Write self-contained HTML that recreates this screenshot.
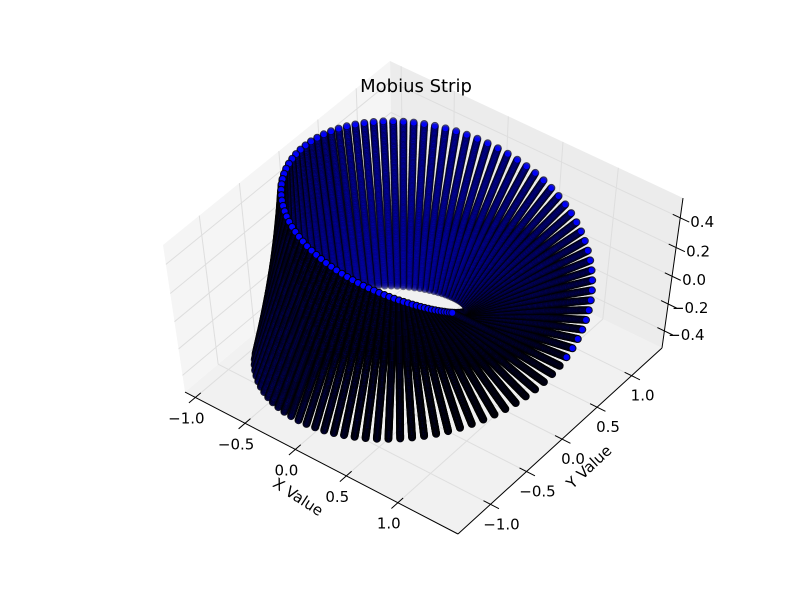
<!DOCTYPE html>
<html><head><meta charset="utf-8"><title>Mobius Strip</title>
<style>
html,body{margin:0;padding:0;background:#fff;}
svg{display:block;font-family:"DejaVu Sans","Liberation Sans",sans-serif;}
</style></head>
<body>
<svg id="chart" width="812" height="612" viewBox="0 0 812 612" xmlns="http://www.w3.org/2000/svg">
<rect x="0" y="0" width="812" height="612" fill="#fff"/>
<g id="panes"></g>
<g id="grid"></g>
<g id="axes"></g>
<g id="pts"></g>
<text x="416" y="92" font-size="18" text-anchor="middle" fill="#000">Mobius Strip</text>
<text x="298" y="497" font-size="15" text-anchor="middle" dominant-baseline="central" transform="rotate(33 298 497)">X Value</text>
<text x="589" y="467" font-size="15" text-anchor="middle" dominant-baseline="central" transform="rotate(-43 589 467)">Y Value</text>
</svg>
<script>
// ---- data (parametric grid of the strip) ----
const uCount = 100;           // samples around the loop
const vCount = 140;           // samples across the strip width
const xTicks = [-1.0, -0.5, 0.0, 0.5, 1.0];
const yTicks = [-1.0, -0.5, 0.0, 0.5, 1.0];
const zTicks = [-0.4, -0.2, 0.0, 0.2, 0.4];
const xTickLabels = ["\u22121.0", "\u22120.5", "0.0", "0.5", "1.0"];
const yTickLabels = ["\u22121.0", "\u22120.5", "0.0", "0.5", "1.0"];
const zTickLabels = ["\u22120.4", "\u22120.2", "0.0", "0.2", "0.4"];
const uValues = [];
const vValues = [];
for (let i = 0; i < uCount; i++) uValues.push(2 * Math.PI * i / (uCount - 1));
for (let j = 0; j < vCount; j++) vValues.push(-1 + 2 * j / (vCount - 1));

const NS = "http://www.w3.org/2000/svg";
const px = [], py = [], pz = [];
for (const u of uValues) {
  for (const v of vValues) {
    const r = 1 + v / 2 * Math.cos(u / 2);
    px.push(r * Math.cos(u));
    py.push(r * Math.sin(u));
    pz.push(v / 2 * Math.sin(u / 2));
  }
}
const PAD = 0.03;
function lims(a) { const lo = Math.min(...a), hi = Math.max(...a), d = (hi - lo) * PAD; return [lo - d, hi + d]; }
const [X0, X1] = lims(px);
const [Y0, Y1] = lims(py);
const [Z0, Z1] = lims(pz);

// ---- camera fitted (DLT) to the measured box corners ----
const corners = [
  [[0,0,0], [185, 392]], [[1,0,0], [458, 534]], [[1,1,0], [662, 348]],
  [[1,1,1], [683, 198]], [[0,1,1], [390, 61]], [[0,0,1], [163, 245]]
];
function solveCamera() {
  const A = [], b = [];
  for (const [[X,Y,Z],[u,v]] of corners) {
    A.push([X,Y,Z,1,0,0,0,0,-u*X,-u*Y,-u*Z]); b.push(u);
    A.push([0,0,0,0,X,Y,Z,1,-v*X,-v*Y,-v*Z]); b.push(v);
  }
  const n = 11, M = [];
  for (let i = 0; i < n; i++) {
    const row = [];
    for (let j = 0; j < n; j++) { let s = 0; for (let k = 0; k < A.length; k++) s += A[k][i]*A[k][j]; row.push(s); }
    let s = 0; for (let k = 0; k < A.length; k++) s += A[k][i]*b[k]; row.push(s);
    M.push(row);
  }
  for (let c = 0; c < n; c++) {
    let p = c; for (let r = c+1; r < n; r++) if (Math.abs(M[r][c]) > Math.abs(M[p][c])) p = r;
    [M[c], M[p]] = [M[p], M[c]];
    for (let r = 0; r < n; r++) if (r !== c) {
      const f = M[r][c] / M[c][c];
      for (let k = c; k <= n; k++) M[r][k] -= f * M[c][k];
    }
  }
  return M.map((r, i) => r[n] / r[i]);
}
const cam = solveCamera();
const el_ = 30 * Math.PI / 180, az_ = -60 * Math.PI / 180;
const viewDir = [Math.cos(az_)*Math.cos(el_), Math.sin(az_)*Math.cos(el_), Math.sin(el_)];
function P(x, y, z) {
  const X = (x - X0) / (X1 - X0), Y = (y - Y0) / (Y1 - Y0), Z = (z - Z0) / (Z1 - Z0);
  const w = cam[8]*X + cam[9]*Y + cam[10]*Z + 1;
  const sx = (cam[0]*X + cam[1]*Y + cam[2]*Z + cam[3]) / w;
  const sy = (cam[4]*X + cam[5]*Y + cam[6]*Z + cam[7]) / w;
  const depth = -(viewDir[0]*X + viewDir[1]*Y + viewDir[2]*Z);
  return [sx, sy, depth];
}

function el(tag, attrs, parent) {
  const e = document.createElementNS(NS, tag);
  for (const k in attrs) e.setAttribute(k, attrs[k]);
  parent.appendChild(e); return e;
}
function poly(pts, fill, parent) {
  return el("polygon", { points: pts.map(p => p[0].toFixed(1) + "," + p[1].toFixed(1)).join(" "), fill: fill }, parent);
}

// panes
const gP = document.getElementById("panes");
const floor = poly([P(X0,Y0,Z0), P(X1,Y0,Z0), P(X1,Y1,Z0), P(X0,Y1,Z0)], "#f1f1f1", gP);


const leftWall = poly([P(X0,Y0,Z0), P(X0,Y1,Z0), P(X0,Y1,Z1), P(X0,Y0,Z1)], "#f5f5f5", gP);


const backWall = poly([P(X0,Y1,Z0), P(X1,Y1,Z0), P(X1,Y1,Z1), P(X0,Y1,Z1)], "#ececec", gP);



// grid
const gG = document.getElementById("grid");
function gline(a, b) {
  const l = el("line", { x1: a[0], y1: a[1], x2: b[0], y2: b[1], stroke: "#dedede", "stroke-width": 1 }, gG);
  
  
}
for (const t of xTicks) { gline(P(t,Y0,Z0), P(t,Y1,Z0)); gline(P(t,Y1,Z0), P(t,Y1,Z1)); }
for (const t of yTicks) { gline(P(X0,t,Z0), P(X1,t,Z0)); gline(P(X0,t,Z0), P(X0,t,Z1)); }
for (const t of zTicks) { gline(P(X0,Y0,t), P(X0,Y1,t)); gline(P(X0,Y1,t), P(X1,Y1,t)); }

// axis lines, ticks, labels
const gA = document.getElementById("axes");
function aline(a, b, name) {
  const l = el("line", { x1: a[0], y1: a[1], x2: b[0], y2: b[1], stroke: "#000", "stroke-width": 1 }, gA);
  
  
}
function label(p, txt, name) {
  const t = el("text", { x: p[0].toFixed(1), y: p[1].toFixed(1), "font-size": 15, "text-anchor": "middle", "dominant-baseline": "central", fill: "#000" }, gA);
  t.textContent = txt;
  
  
}
aline(P(X0,Y0,Z0), P(X1,Y0,Z0), 'x-axis-line');
aline(P(X1,Y0,Z0), P(X1,Y1,Z0), 'y-axis-line');
aline(P(X1,Y1,Z0), P(X1,Y1,Z1), 'z-axis-line');
const yr = Y1 - Y0, xr = X1 - X0;
xTicks.forEach((t, i) => {
  aline(P(t, Y0 + 0.025 * yr, Z0), P(t, Y0 - 0.03 * yr, Z0), 'x-tick');
  const p = P(t, Y0, Z0);
  label([p[0] - 9, p[1] + 21], xTickLabels[i], 'x-tick-label');
});
yTicks.forEach((t, i) => {
  aline(P(X1 - 0.025 * xr, t, Z0), P(X1 + 0.03 * xr, t, Z0), 'y-tick');
  const p = P(X1, t, Z0);
  label([p[0] + 11, p[1] + 20], yTickLabels[i], 'y-tick-label');
});
zTicks.forEach((t, i) => {
  aline(P(X1 - 0.025 * xr, Y1, t), P(X1 + 0.03 * xr, Y1, t), 'z-tick');
  const p = P(X1, Y1, t);
  label([p[0] + 22, p[1] + 4], zTickLabels[i], 'z-tick-label');
});

// scatter points (depth shaded, data order)
const gS = document.getElementById("pts");
const proj = px.map((x, i) => P(x, py[i], pz[i]));
const ds = proj.map(p => p[2]);
const dmin = Math.min(...ds), dmax = Math.max(...ds);
proj.forEach((p, i) => {
  const a = 1 - 0.6 * (p[2] - dmin) / (dmax - dmin);
  const c = el("circle", { cx: p[0].toFixed(1), cy: p[1].toFixed(1), r: 3.5, fill: "#0000ff", stroke: "#000", "stroke-width": 1, "fill-opacity": a.toFixed(2), "stroke-opacity": a.toFixed(2) }, gS);
  
  
});
</script>
</body></html>
